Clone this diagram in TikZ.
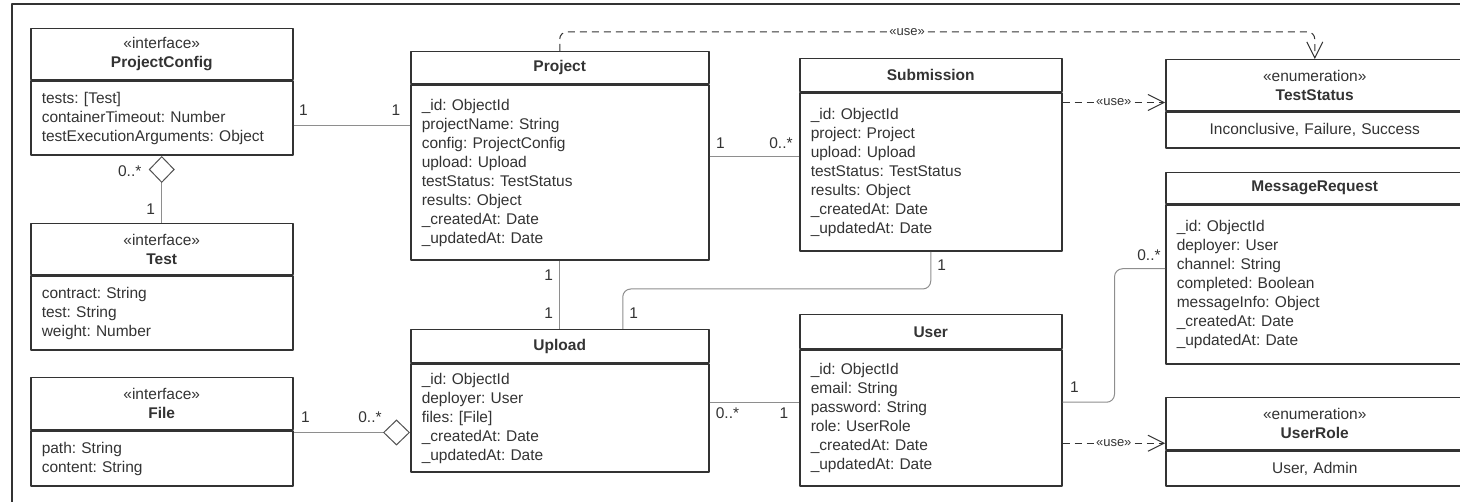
\documentclass[tikz,border=0pt]{standalone}
\usepackage{fontspec}
\setmainfont{Liberation Sans}
\usetikzlibrary{arrows.meta}
\definecolor{ink}{HTML}{333333}
\definecolor{wire}{HTML}{8E8E8E}
\tikzset{hollow/.tip={Diamond[open, length=27pt, width=26pt, line width=1pt, color=ink!85]}}

\begin{document}
\begin{tikzpicture}[x=1pt, y=-1pt, line join=round,
	font=\fontsize{15.5}{19}\selectfont\frenchspacing, text=ink,
	head/.style 2 args={draw=ink, line width=1.5pt, anchor=north west, minimum width=#1, minimum height=#2, align=center, inner sep=0pt},
	body/.style 2 args={draw=ink, line width=1.5pt, anchor=north west, text width=#1, minimum height=#2, align=left, inner xsep=11pt, inner ysep=0pt},
	enum/.style 2 args={body={#1}{#2}, align=center},
	conn/.style={draw=wire, line width=1pt},
	dep/.style={draw=ink, line width=1pt, dash pattern=on 7pt off 5pt, -{Straight Barb[length=16pt, width=16pt, line width=1pt]}},
	lbl/.style={inner sep=0pt},
	use/.style={fill=white, inner sep=2pt, font=\fontsize{13}{15}\selectfont}]
	\useasboundingbox (0,0) rectangle (1460,502);
	\clip (0,0) rectangle (1460,502);
	\draw[ink, line width=2pt] (12,510) |- (1470,4);
	% left column
	\node[head={262pt}{51pt}] (pc) at (30,28) {«interface»\\\textbf{ProjectConfig}};
	\node[body={240pt}{74pt}] (pc-b) at (pc.south west) {tests: [Test]\\containerTimeout: Number\\testExecutionArguments: Object};
	\node[head={262pt}{51pt}] (test) at (30,223) {«interface»\\\textbf{Test}};
	\node[body={240pt}{74pt}] (test-b) at (test.south west) {contract: String\\test: String\\weight: Number};
	\node[head={262pt}{52pt}] (file) at (30,377) {«interface»\\\textbf{File}};
	\node[body={240pt}{55pt}] (file-b) at (file.south west) {path: String\\content: String};
	% middle
	\node[head={298pt}{32pt}] (prj) at (410,51) {\textbf{Project}};
	\node[body={276pt}{175pt}] (prj-b) at (prj.south west) {\_id: ObjectId\\projectName: String\\config: ProjectConfig\\upload: Upload\\testStatus: TestStatus\\results: Object\\\_createdAt: Date\\\_updatedAt: Date};
	\node[head={298pt}{33pt}] (upl) at (410,329) {\textbf{Upload}};
	\node[body={276pt}{108pt}] (upl-b) at (upl.south west) {\_id: ObjectId\\deployer: User\\files: [File]\\\_createdAt: Date\\\_updatedAt: Date};
	\node[head={262pt}{33pt}] (sub) at (799,58) {\textbf{Submission}};
	\node[body={240pt}{158pt}] (sub-b) at (sub.south west) {\_id: ObjectId\\project: Project\\upload: Upload\\testStatus: TestStatus\\results: Object\\\_createdAt: Date\\\_updatedAt: Date};
	\node[head={262pt}{34pt}] (usr) at (799,314) {\textbf{User}};
	\node[body={240pt}{136pt}] (usr-b) at (usr.south west) {\_id: ObjectId\\email: String\\password: String\\role: UserRole\\\_createdAt: Date\\\_updatedAt: Date};
	% right column
	\node[head={298pt}{51pt}] (ts) at (1165,59) {«enumeration»\\\textbf{TestStatus}};
	\node[enum={276pt}{36pt}] (ts-b) at (ts.south west) {Inconclusive, Failure, Success};
	\node[head={298pt}{31pt}] (mr) at (1165,172) {\textbf{MessageRequest}};
	\node[body={276pt}{159pt}] (mr-b) at (mr.south west) {\_id: ObjectId\\deployer: User\\channel: String\\completed: Boolean\\messageInfo: Object\\\_createdAt: Date\\\_updatedAt: Date};
	\node[head={298pt}{52pt}] (ur) at (1165,397) {«enumeration»\\\textbf{UserRole}};
	\node[enum={276pt}{35pt}] (ur-b) at (ur.south west) {User, Admin};
	% associations
	\draw[conn] ([yshift=-7pt]pc-b.east) -- ([yshift=-7pt]pc-b.east -| prj-b.west)
		node[lbl, pos=0, xshift=10pt, yshift=15pt] {1}
		node[lbl, pos=1, xshift=-14pt, yshift=15pt] {1};
	\draw[conn, {hollow}-] (pc-b.south) -- (test.north)
		node[lbl, pos=0, xshift=-32pt, yshift=-15pt] {0..*}
		node[lbl, pos=1, xshift=-11pt, yshift=13.5pt] {1};
	\draw[conn, -{hollow}] ([yshift=-2pt]file-b.north east) -- ([yshift=-2pt]file-b.north east -| upl-b.west)
		node[lbl, pos=0, xshift=12pt, yshift=15pt] {1}
		node[lbl, pos=1, xshift=-40pt, yshift=15pt] {0..*};
	\draw[conn] ([yshift=16pt]prj-b.east) -- ([yshift=16pt]prj-b.east -| sub-b.west)
		node[lbl, pos=0, xshift=11pt, yshift=14pt] {1}
		node[lbl, pos=1, xshift=-18pt, yshift=14pt] {0..*};
	\draw[conn] (prj-b.south) -- (upl.north)
		node[lbl, pos=0, xshift=-11pt, yshift=-14pt] {1}
		node[lbl, pos=1, xshift=-11pt, yshift=16pt] {1};
	\draw[conn, rounded corners=8pt] ([xshift=63pt]upl.north) node[lbl, xshift=11pt, yshift=16pt] {1}
		-- ++(0,-40) -| (sub-b.south) node[lbl, xshift=11pt, yshift=-13pt] {1};
	\draw[conn] ([yshift=16pt]upl-b.east) -- ([yshift=16pt]upl-b.east -| usr-b.west)
		node[lbl, pos=0, xshift=18pt, yshift=-11pt] {0..*}
		node[lbl, pos=1, xshift=-15pt, yshift=-11pt] {1};
	\draw[conn, rounded corners=8pt] ([yshift=16pt]usr-b.east) node[lbl, xshift=12pt, yshift=15pt] {1}
		-- ++(52,0) |- ([yshift=16pt]mr-b.west) node[lbl, xshift=-16pt, yshift=14pt] {0..*};
	% dependencies
	\draw[dep] ([yshift=-10pt]sub-b.north east) -- ([yshift=-10pt]sub-b.north east -| ts.west) node[use, midway] {«use»};
	\draw[dep] ([yshift=-25pt]usr-b.east) -- ([yshift=-25pt]usr-b.east -| ur.west) node[use, midway] {«use»};
	\draw[dep, rounded corners=7pt] (prj.north) -- ++(0,-19) -| (ts.north) node[use, pos=0.23] {«use»};
\end{tikzpicture}
\end{document}
